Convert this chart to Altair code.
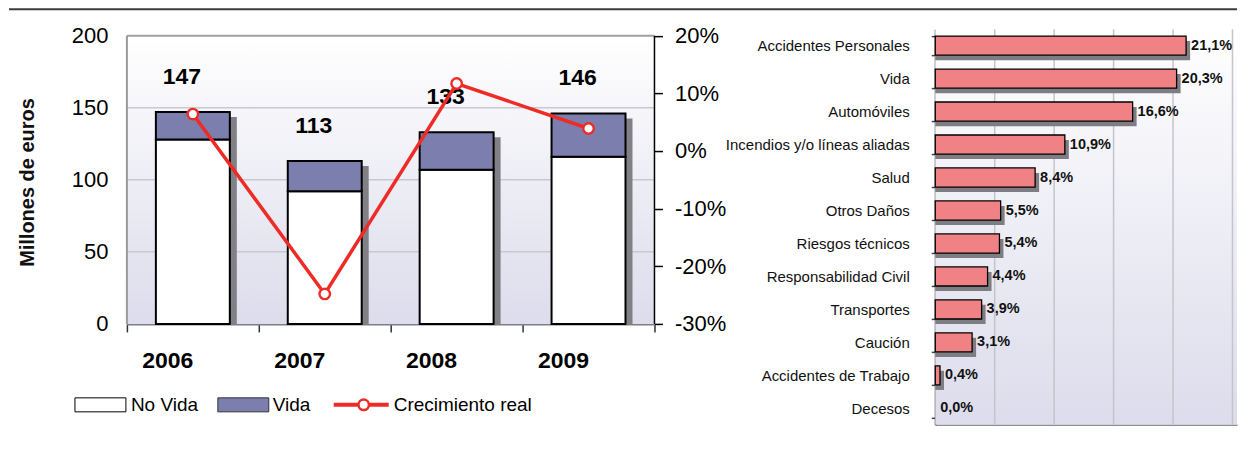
import altair as alt
import pandas as pd

# ---------------- data ----------------
years = ["2006", "2007", "2008", "2009"]
no_vida = [128, 92, 107, 116]
total = [147, 113, 133, 146]
crecimiento = [6.4, -24.8, 11.7, 3.9]

ramos = ["Accidentes Personales", "Vida", "Automóviles",
         "Incendios y/o líneas aliadas", "Salud", "Otros Daños",
         "Riesgos técnicos", "Responsabilidad Civil", "Transportes",
         "Caución", "Accidentes de Trabajo", "Decesos"]
crec_ramo = [21.1, 20.3, 16.6, 10.9, 8.4, 5.5, 5.4, 4.4, 3.9, 3.1, 0.4, 0.0]

left_ticks = [0, 50, 100, 150, 200]
pct_ticks = [-30, -20, -10, 0, 10, 20]
grid_left = [50, 100, 150]
grid_right = [5, 10, 15, 20, 25]
legend_labels = ["No Vida", "Vida", "Crecimiento real"]

# ---------------- settings ----------------
FONT = "Liberation Sans"
W1, H1 = 528, 295
W2, H2 = 302, 396
V_TOP = 204.5
P_TOP = 21.13
X2_MAX = 25.38
RED = "#ee2b26"
VIDA = "#7c7fae"

grad = alt.Gradient(
    gradient="linear",
    stops=[alt.GradientStop(color="#ffffff", offset=0),
           alt.GradientStop(color="#dcdcec", offset=1)],
    x1=0, x2=0, y1=0, y2=1,
)

df = pd.DataFrame({"year": years, "nv": no_vida, "tot": total, "crec": crecimiento})
df["zero"] = 0
df["lab"] = df["tot"].astype(str)

one = pd.DataFrame({"top": [200], "bot": [0]})
gl = pd.DataFrame({"g": grid_left})

yscale = alt.Scale(domain=[0, V_TOP], nice=False, zero=False)
xscale = alt.Scale(paddingInner=0, paddingOuter=0)

x_axis = alt.Axis(title=None, labelFont=FONT, labelFontSize=23, labelFontWeight="bold",
                  labelColor="black", labelPadding=29, labelAngle=0, tickBand="extent",
                  tickSize=8, tickColor="#333333", tickWidth=1.5,
                  domainColor="#7f7f7f", domainWidth=2, grid=False)
y_axis = alt.Axis(values=left_ticks, title="Millones de euros", titleFont=FONT,
                  titleFontSize=20, titleFontWeight="bold", titleColor="#111111",
                  titleX=-99, titleY=153, titleAngle=-90, titleAlign="center",
                  titleBaseline="middle", labelFont=FONT, labelFontSize=22,
                  labelColor="black", labelPadding=19, ticks=False, tickSize=0,
                  domain=False, grid=False)

X = alt.X("year:N", scale=xscale)

background = alt.Chart(one).mark_rect(fill=grad).encode(
    x=alt.value(0), x2=alt.value(W1),
    y=alt.Y("top:Q", scale=yscale), y2="bot:Q")

grid_rules = alt.Chart(gl).mark_rule(color="#c8c8d2", strokeWidth=1.5).encode(
    x=alt.value(0), x2=alt.value(W1),
    y=alt.Y("g:Q", scale=yscale))

top_border = alt.Chart(one).mark_rule(color="#a0a0a0", strokeWidth=2).encode(
    x=alt.value(0), x2=alt.value(W1), y=alt.Y("top:Q", scale=yscale))
left_border = alt.Chart(one).mark_rule(color="#9a9a9a", strokeWidth=2).encode(
    x=alt.value(0), y=alt.Y("top:Q", scale=yscale), y2="bot:Q")
right_border = alt.Chart(one).mark_rule(color="black", strokeWidth=1.5).encode(
    x=alt.value(W1), y=alt.Y("top:Q", scale=yscale), y2="bot:Q")

base = alt.Chart(df)
shadow = base.mark_bar(size=74, color="#808086", xOffset=7, yOffset=5).encode(
    x=X, y=alt.Y("tot:Q", scale=yscale), y2="zero:Q")
bars_nv = base.mark_bar(size=74, fill="white", stroke="black", strokeWidth=2).encode(
    x=alt.X("year:N", scale=xscale, axis=x_axis),
    y=alt.Y("nv:Q", scale=yscale, axis=y_axis), y2="zero:Q")
bars_v = base.mark_bar(size=74, fill=VIDA, stroke="black", strokeWidth=2).encode(
    x=X, y=alt.Y("tot:Q", scale=yscale), y2="nv:Q")
tot_labels = base.mark_text(dx=-11, dy=-35, font=FONT, fontSize=23, fontWeight="bold",
                            color="black").encode(
    x=X, y=alt.Y("tot:Q", scale=yscale), text="lab:N")

# legend (manual)
leg = alt.Chart(pd.DataFrame({"a": [0]}))
LY = 376
leg_box1 = leg.mark_rect(fill="white", stroke="black", strokeWidth=1).encode(
    x=alt.value(-52), x2=alt.value(-1), y=alt.value(LY - 7), y2=alt.value(LY + 7))
leg_box2 = leg.mark_rect(fill=VIDA, stroke="#333333", strokeWidth=1).encode(
    x=alt.value(91), x2=alt.value(142), y=alt.value(LY - 7), y2=alt.value(LY + 7))
leg_line = leg.mark_rule(color=RED, strokeWidth=4).encode(
    x=alt.value(207), x2=alt.value(262), y=alt.value(LY))
leg_pt = leg.mark_circle(color="white", stroke=RED, strokeWidth=2.5, size=110, opacity=1).encode(
    x=alt.value(237), y=alt.value(LY))
leg_t1 = leg.mark_text(text=legend_labels[0], align="left", baseline="middle", font=FONT,
                       fontSize=19, color="black").encode(x=alt.value(4), y=alt.value(LY))
leg_t2 = leg.mark_text(text=legend_labels[1], align="left", baseline="middle", font=FONT,
                       fontSize=19, color="black").encode(x=alt.value(146), y=alt.value(LY))
leg_t3 = leg.mark_text(text=legend_labels[2], align="left", baseline="middle", font=FONT,
                       fontSize=19, color="black").encode(x=alt.value(267), y=alt.value(LY))

top_line = leg.mark_rule(color="#3c3c3c", strokeWidth=2).encode(
    x=alt.value(-118), x2=alt.value(1111), y=alt.value(-20))

layer_a = alt.layer(background, grid_rules, top_border, left_border, shadow, bars_nv,
                    bars_v, right_border, tot_labels, leg_box1, leg_box2, leg_line,
                    leg_pt, leg_t1, leg_t2, leg_t3, top_line)

pscale = alt.Scale(domain=[-30, P_TOP], nice=False, zero=False)
p_axis = alt.Axis(orient="right", values=pct_ticks, labelExpr="datum.value + '%'",
                  title=None, labelFont=FONT, labelFontSize=22, labelColor="black",
                  labelPadding=12, tickSize=8, tickColor="black", tickWidth=1.5,
                  domain=False, grid=False)
line = base.mark_line(color=RED, strokeWidth=3.5).encode(
    x=X, y=alt.Y("crec:Q", scale=pscale, axis=p_axis))
pts = base.mark_circle(color="white", stroke=RED, strokeWidth=2.4, size=110, opacity=1).encode(
    x=X, y=alt.Y("crec:Q", scale=pscale))
layer_b = alt.layer(line, pts)

left = alt.layer(layer_a, layer_b).resolve_scale(y="independent").properties(
    width=W1, height=H1)

# ---------------- right chart ----------------
df2 = pd.DataFrame({"ramo": ramos, "v": crec_ramo})
df2["z"] = 0
df2["lab"] = [f"{v:.1f}".replace(".", ",") + "%" for v in crec_ramo]
x2scale = alt.Scale(domain=[0, X2_MAX], nice=False, zero=False)
y2scale = alt.Scale(paddingInner=0.42, paddingOuter=0.21)

r_yaxis = alt.Axis(title=None, labelFont=FONT, labelFontSize=15, labelColor="#111111",
                   labelPadding=22, labelLimit=0, tickBand="extent", tickSize=4,
                   tickColor="#444444", tickWidth=1.5, domainColor="#444444",
                   domainWidth=2, grid=False)
r_xaxis = alt.Axis(title=None, labels=False, ticks=False, grid=False,
                   domainColor="#8f8f8f", domainWidth=2)

Y2 = alt.Y("ramo:N", sort=ramos, scale=y2scale)

bg2 = alt.Chart(pd.DataFrame({"a": [0]})).mark_rect(fill=grad).encode(
    x=alt.value(0), x2=alt.value(W2), y=alt.value(0), y2=alt.value(H2))
grid2 = alt.Chart(pd.DataFrame({"g": grid_right})).mark_rule(
    color="#c4c4cc", strokeWidth=1.5).encode(
    x=alt.X("g:Q", scale=x2scale, axis=r_xaxis), y=alt.value(0), y2=alt.value(H2))
b2 = alt.Chart(df2)
shadow2 = b2.transform_filter("datum.v > 0").mark_bar(
    color="#7d7d83", x2Offset=4, yOffset=5).encode(
    y=Y2, x=alt.X("z:Q", scale=x2scale), x2="v:Q")
bars2 = b2.transform_filter("datum.v > 0").mark_bar(
    fill="#f08286", stroke="black", strokeWidth=1.3).encode(
    y=alt.Y("ramo:N", sort=ramos, scale=y2scale, axis=r_yaxis),
    x=alt.X("z:Q", scale=x2scale), x2="v:Q")
labels2 = b2.mark_text(align="left", baseline="middle", dx=5, font=FONT, fontSize=14.5,
                       fontWeight="bold", color="#111111").encode(
    y=Y2, x=alt.X("v:Q", scale=x2scale), text="lab:N")

right = alt.layer(bg2, grid2, shadow2, bars2, labels2).properties(width=W2, height=H2)

chart = alt.hconcat(left, right, spacing=281, bounds="flush").configure_view(
    stroke=None).properties(padding=0, background="white")

chart.save("out.html", embed_options={"renderer": "svg", "actions": False})
